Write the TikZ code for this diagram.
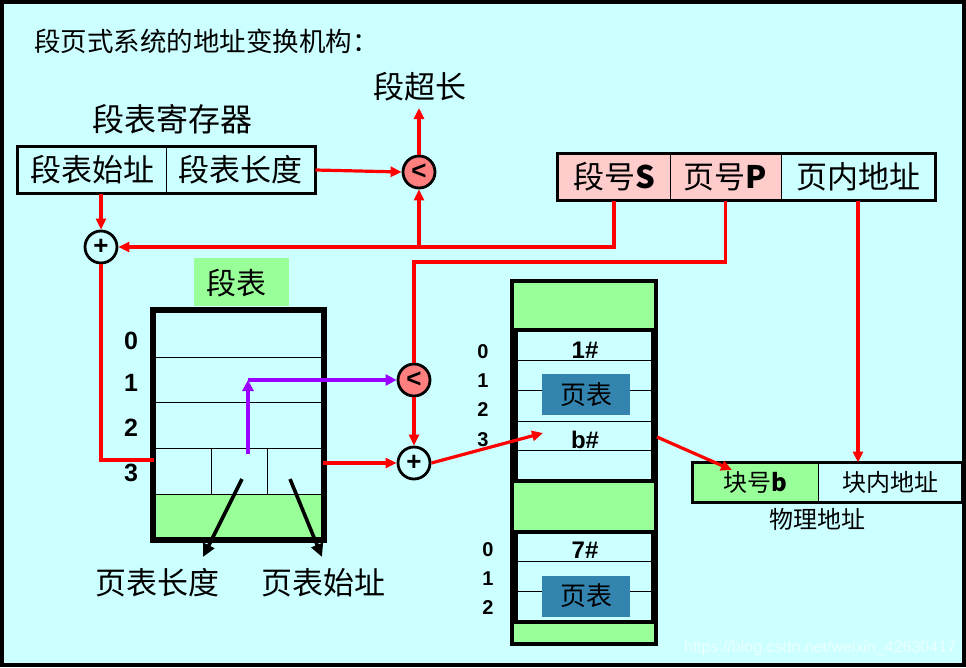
\documentclass[tikz,border=0pt]{standalone}
\usepackage{fontspec}
\setmainfont{Liberation Sans}
\newfontfamily\cjk{Noto Sans CJK SC}
\usetikzlibrary{arrows.meta,calc}
\definecolor{bg}{HTML}{CCFFFF}
\definecolor{lgreen}{HTML}{99FF99}
\definecolor{lpink}{HTML}{FFCCCC}
\definecolor{salmon}{HTML}{FF7F7F}
\definecolor{ptblue}{HTML}{3385B0}
\definecolor{vio}{HTML}{9900FF}
\definecolor{rline}{HTML}{FF0000}
\tikzset{
  cjkt/.style={inner sep=0pt, font=\cjk\fontsize{#1}{#1}\selectfont},
  cjkt/.default=31,
  numt/.style={inner sep=0pt, font=\bfseries\fontsize{#1}{#1}\selectfont},
  cell/.style={draw, line width=1pt, inner sep=0pt, minimum width=#1},
  redln/.style={draw=rline, line width=3.2pt},
  redar/.style={redln, -{Triangle[length=11pt,width=10pt]}},
  blkar/.style={draw=black, line width=3.6pt, -{Triangle[length=13pt,width=12pt]}},
  vioar/.style={draw=vio, line width=3.2pt, -{Triangle[length=11pt,width=11pt]}},
  gate/.style={circle, draw, line width=2.8pt, minimum size=32pt, inner sep=0pt, font=\bfseries\fontsize{26}{26}\selectfont},
  ptbox/.style={fill=ptblue, minimum width=88pt, minimum height=41pt, inner sep=0pt, font=\cjk\fontsize{26}{26}\selectfont},
}
\begin{document}
\begin{tikzpicture}[x=1pt,y=-1pt]
\useasboundingbox (0,0) rectangle (966,667);
\fill[bg] (0,0) rectangle (966,667);
\draw[line width=4pt] (2,1.5) rectangle (964,665);

% title
\node[cjkt=26.5, anchor=west] (title) at (34,41) {段页式系统的地址变换机构：};

% segment table register
\node[cjkt=32] (regname) at (172,119) {段表寄存器};
\node[cell=148pt, minimum height=46pt, cjkt] (regstart) at (92,170) {段表始址};
\node[cell=149pt, minimum height=46pt, cjkt] (reglen) at (240.5,170) {段表长度};
\draw[line width=3.8pt] (regstart.north west) rectangle (reglen.south east);

% logical address
\node[cell=112pt, minimum height=46pt, fill=lpink, cjkt] (segS) at (614,177) {段号\textbf{S}};
\node[cell=111pt, minimum height=46pt, fill=lpink, cjkt] (pageP) at (725.5,177) {页号\textbf{P}};
\node[cell=154pt, minimum height=46pt, cjkt] (offset) at (858,177) {页内地址};
\draw[line width=3.8pt] (segS.north west) rectangle (offset.south east);

% overflow label
\node[cjkt] (ovl) at (420,87) {段超长};
\coordinate (ovtip) at (419,108);

% gates
\node[gate, fill=salmon] (lt1) at (419,172) {<};
\node[gate] (add1) at (101,247) {+};
\node[gate, fill=salmon] (lt2) at (414,380) {<};
\node[gate] (add2) at (414,463) {+};

% segment table
\node[fill=lgreen, minimum width=95pt, minimum height=48pt] (stlblbox) at (241.5,282) {};
\node[cjkt=30] (stlbl) at (236,283) {段表};
\node[draw, line width=3.6pt, fill=bg, minimum width=169pt, minimum height=228pt, inner sep=0pt] (segtab) at (238.5,425) {};
\fill[lgreen] (156,494) rectangle (321,537);
\draw[line width=1pt] (154,357) -- (323,357);
\draw[line width=1pt] (154,402) -- (323,402);
\draw[line width=1pt] (154,448) -- (323,448);
\draw[line width=1pt] (154,494) -- (323,494);
\draw[line width=1pt] (211,448) -- (211,494);
\draw[line width=1pt] (267,448) -- (267,494);
\draw[line width=3.6pt] (segtab.north west) rectangle (segtab.south east);
\node[numt=25] (r0) at (131,341) {0};
\node[numt=25] (r1) at (131,383) {1};
\node[numt=25] (r2) at (131,428) {2};
\node[numt=25] (r3) at (131,473) {3};

\coordinate (stin) at (154,460);
\coordinate (stout) at (323,463);
\coordinate (pstart) at (248,454);
\coordinate (pbend) at (248,380);
\coordinate (lenfrom) at (242,479);
\coordinate (lento) at (203,557);
\coordinate (addrfrom) at (290,479);
\coordinate (addrto) at (322,557);

\node[cjkt] (ptlen) at (157,583) {页表长度};
\node[cjkt] (ptaddr) at (323,583) {页表始址};

% memory
\node[draw, line width=3.6pt, fill=lgreen, minimum width=144pt, minimum height=363pt, inner sep=0pt] (mem) at (584,462.5) {};
\node[draw, line width=3.6pt, fill=bg, minimum width=137pt, minimum height=151pt, inner sep=0pt] (pt1) at (584.5,405.5) {};
\node[draw, line width=3.6pt, fill=bg, minimum width=137pt, minimum height=90pt, inner sep=0pt] (pt2) at (584.5,577) {};
\foreach \yy in {360,390,421,450} \draw[line width=1pt] (517,\yy) -- (652,\yy);
\foreach \yy in {561,591} \draw[line width=1pt] (517,\yy) -- (652,\yy);
\node[ptbox] (pt1box) at (586,394.5) {页表};
\node[ptbox] (pt2box) at (586,596) {页表};
\node[numt=24] (n1) at (585,350) {1\#};
\node[numt=24] (nb) at (585,440) {b\#};
\node[numt=24] (n7) at (585,550) {7\#};
\node[numt=20] (m0) at (483,352) {0};
\node[numt=20] (m1) at (483,381) {1};
\node[numt=20] (m2) at (483,410) {2};
\node[numt=20] (m3) at (483,440) {3};
\node[numt=20] (k0) at (488,550) {0};
\node[numt=20] (k1) at (488,579) {1};
\node[numt=20] (k2) at (488,608) {2};
\coordinate (btip) at (543,433);
\coordinate (memout) at (657,437);

% physical address
\node[cell=125pt, minimum height=39pt, fill=lgreen, cjkt=24] (physb) at (755.5,482.5) {块号\textbf{b}};
\node[cell=144pt, minimum height=39pt, cjkt=24] (physoff) at (890,482.5) {块内地址};
\draw[line width=3.8pt] (physb.north west) rectangle (physoff.south east);
\node[cjkt=24] (physlbl) at (817,519) {物理地址};
\coordinate (phystip) at (732,470);

% connectors
\draw[redar] (reglen.east) -- (lt1.west);
\draw[redar] (lt1.north) -- (ovtip);
\draw[redar] (regstart.south -| add1) -- (add1.north);
\draw[redar] (segS.south) |- (add1.east);
\draw[redar] (lt1.south |- add1.east) -- (lt1.south);
\draw[redln] (pageP.south) |- (lt2.north |- 0,262) -- (lt2.north);
\draw[redln] (add1.south) |- (stin);
\draw[redar] (stout) -- (add2.west);
\draw[redar] (lt2.south) -- (add2.north);
\draw[redar] (add2.east) -- (btip);
\draw[redar] (memout) -- (phystip);
\draw[redar] (offset.south) -- (offset.south |- physoff.north);
\draw[vioar] (pstart) -- (pbend);
\draw[vioar] (pbend) -- (lt2.west);
\draw[blkar] (lenfrom) -- (lento);
\draw[blkar] (addrfrom) -- (addrto);

% watermark
\node[inner sep=0pt, font=\fontsize{16}{16}\selectfont, text=white, opacity=0.6] (wm) at (820,648) {https://blog.csdn.net/weixin\_42630417};
\end{tikzpicture}
\end{document}
